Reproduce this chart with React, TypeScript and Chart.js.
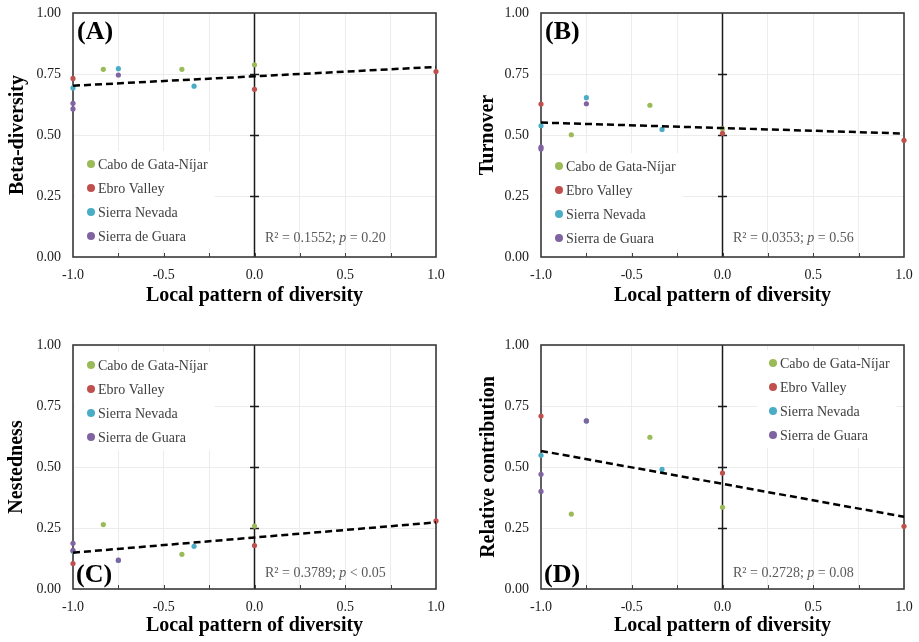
import { useEffect, useRef } from 'react';
import { Chart, registerables } from 'chart.js';

Chart.register(...registerables);

// ---------- data ----------
const regions = ['Cabo de Gata-Níjar', 'Ebro Valley', 'Sierra Nevada', 'Sierra de Guara'];
const regionColors = ['#9BBB59', '#C0504D', '#4BACC6', '#8064A2'];
const regionOrder = [4, 2, 3, 1];

// local pattern of diversity (x) per region
const caboX = [-0.833, -0.4, 0];
const ebroX = [-1, 0, 1];
const nevadaX = [-1, -0.75, -0.333];
const guaraX = [-1, -1, -0.75];

// (A) Beta-diversity
const betaCabo = [0.769, 0.769, 0.788];
const betaEbro = [0.732, 0.687, 0.76];
const betaNevada = [0.693, 0.772, 0.7];
const betaGuara = [0.63, 0.607, 0.746];
const betaTrend = [0.702, 0.779];

// (B) Turnover
const turnCabo = [0.501, 0.622, 0.526];
const turnEbro = [0.627, 0.507, 0.478];
const turnNevada = [0.538, 0.653, 0.523];
const turnGuara = [0.443, 0.45, 0.628];
const turnTrend = [0.551, 0.506];

// (C) Nestedness
const nestCabo = [0.264, 0.142, 0.258];
const nestEbro = [0.104, 0.178, 0.279];
const nestNevada = [0.155, 0.117, 0.175];
const nestGuara = [0.187, 0.158, 0.118];
const nestTrend = [0.149, 0.273];

// (D) Relative contribution
const relCabo = [0.307, 0.622, 0.335];
const relEbro = [0.709, 0.475, 0.257];
const relNevada = [0.548, 0.689, 0.49];
const relGuara = [0.47, 0.4, 0.689];
const relTrend = [0.566, 0.296];

const trendX = [-1, 1];
const yTickLabels = ['0.00', '0.25', '0.50', '0.75', '1.00'];
const xAxisTitle = 'Local pattern of diversity';

const panels = [
  {
    key: 'A', letter: '(A)', yTitle: 'Beta-diversity',
    series: [betaCabo, betaEbro, betaNevada, betaGuara], trend: betaTrend,
    stat: ['R² = 0.1552; ', 'p', ' = 0.20'],
    left: 0, top: 0, width: 460, height: 320,
    plotLeft: 73, plotTop: 13, plotRight: 436, plotBottom: 257,
    yTitlePad: 6, xTitlePad: 12,
    letterBottom: false, legend: { dx: 18, dy: 151 }, statDy: 19,
  },
  {
    key: 'B', letter: '(B)', yTitle: 'Turnover',
    series: [turnCabo, turnEbro, turnNevada, turnGuara], trend: turnTrend,
    stat: ['R² = 0.0353; ', 'p', ' = 0.56'],
    left: 460, top: 0, width: 459, height: 320,
    plotLeft: 81, plotTop: 13, plotRight: 444, plotBottom: 257,
    yTitlePad: 16, xTitlePad: 12,
    letterBottom: false, legend: { dx: 18, dy: 153 }, statDy: 19,
  },
  {
    key: 'C', letter: '(C)', yTitle: 'Nestedness',
    series: [nestCabo, nestEbro, nestNevada, nestGuara], trend: nestTrend,
    stat: ['R² = 0.3789; ', 'p', ' < 0.05'],
    left: 0, top: 320, width: 460, height: 322,
    plotLeft: 73, plotTop: 25, plotRight: 436, plotBottom: 269,
    yTitlePad: 5, xTitlePad: 4,
    letterBottom: true, legend: { dx: 18, dy: 20 }, statDy: 16,
  },
  {
    key: 'D', letter: '(D)', yTitle: 'Relative contribution',
    series: [relCabo, relEbro, relNevada, relGuara], trend: relTrend,
    stat: ['R² = 0.2728; ', 'p', ' = 0.08'],
    left: 460, top: 320, width: 459, height: 322,
    plotLeft: 81, plotTop: 25, plotRight: 444, plotBottom: 269,
    yTitlePad: 17, xTitlePad: 4,
    letterBottom: true, legend: { dx: 232, dy: 18 }, statDy: 16,
  },
];

const regionXs = [caboX, ebroX, nevadaX, guaraX];
const FONT = '"Liberation Serif", "Times New Roman", serif';

const decorPlugin = {
  id: 'decor',
  beforeDatasetsDraw(chart: any, _args: any, opts: any) {
    const { ctx, chartArea: a, scales } = chart;
    const xs = scales.x;
    const ys = scales.y;
    ctx.save();

    // legend background box
    ctx.font = `14px ${FONT}`;
    const items = chart.data.datasets.filter((d: any) => d.isRegion);
    const lx = a.left + opts.legend.dx;
    const ly = a.top + opts.legend.dy;
    let maxW = 0;
    items.forEach((d: any) => { maxW = Math.max(maxW, ctx.measureText(d.label).width); });
    ctx.fillStyle = '#ffffff';
    ctx.fillRect(lx - 16, ly - 13, maxW + 30, (items.length - 1) * 24 + 26);

    // zero line with cross ticks
    const x0 = xs.getPixelForValue(0);
    ctx.strokeStyle = '#1a1a1a';
    ctx.lineWidth = 1.5;
    ctx.beginPath();
    ctx.moveTo(x0, a.top);
    ctx.lineTo(x0, a.bottom);
    ys.ticks.forEach((t: any) => {
      if (t.value > ys.min && t.value < ys.max) {
        const y = Math.round(ys.getPixelForValue(t.value)) + 0.5;
        ctx.moveTo(x0 - 4.5, y);
        ctx.lineTo(x0 + 4.5, y);
      }
    });
    ctx.stroke();

    // inside tick marks on bottom axis
    ctx.strokeStyle = '#404040';
    ctx.lineWidth = 1;
    ctx.beginPath();
    xs.ticks.forEach((t: any) => {
      if (t.value > xs.min && t.value < xs.max) {
        const x = Math.round(xs.getPixelForValue(t.value)) + 0.5;
        ctx.moveTo(x, a.bottom);
        ctx.lineTo(x, a.bottom - 4);
      }
    });
    ctx.stroke();

    // frame
    ctx.strokeStyle = '#3a3a3a';
    ctx.lineWidth = 1.6;
    ctx.strokeRect(a.left, a.top, a.right - a.left, a.bottom - a.top);
    ctx.restore();
  },
  afterDatasetsDraw(chart: any, _args: any, opts: any) {
    const { ctx, chartArea: a } = chart;
    ctx.save();

    // legend
    const items = chart.data.datasets.filter((d: any) => d.isRegion);
    const lx = a.left + opts.legend.dx;
    const ly = a.top + opts.legend.dy;
    ctx.font = `14px ${FONT}`;
    ctx.textBaseline = 'middle';
    ctx.textAlign = 'left';
    items.forEach((d: any, i: number) => {
      const y = ly + i * 24;
      ctx.fillStyle = d.backgroundColor;
      ctx.beginPath();
      ctx.arc(lx, y, 4, 0, Math.PI * 2);
      ctx.fill();
      ctx.fillStyle = '#404040';
      ctx.fillText(d.label, lx + 7, y + 1);
    });

    // panel letter
    ctx.font = `bold 26px ${FONT}`;
    ctx.fillStyle = '#000000';
    ctx.textBaseline = 'middle';
    if (opts.letterBottom) {
      ctx.fillText(opts.letter, a.left + 3, a.bottom - 14);
    } else {
      ctx.fillText(opts.letter, a.left + 4, a.top + 19);
    }

    // statistics text
    let sx = a.left + 192;
    const sy = a.bottom - opts.statDy;
    ctx.fillStyle = '#595959';
    opts.stat.forEach((part: string, i: number) => {
      ctx.font = i === 1 ? `italic 14px ${FONT}` : `14px ${FONT}`;
      ctx.fillText(part, sx, sy);
      sx += ctx.measureText(part).width;
    });
    ctx.restore();
  },
};

const zeroPad = (s: any) => {
  s.paddingTop = 0;
  s.paddingBottom = 0;
  s.paddingLeft = 0;
  s.paddingRight = 0;
};

function Panel({ p }: { p: any }) {
  const ref = useRef<HTMLCanvasElement | null>(null);
  useEffect(() => {
    if (!ref.current) return;
    const datasets: any[] = [
      {
        type: 'line',
        label: 'trend',
        data: trendX.map((x, i) => ({ x, y: p.trend[i] })),
        borderColor: '#000000',
        borderWidth: 2.5,
        borderDash: [7, 4],
        pointRadius: 0,
        fill: false,
        clip: false,
        order: 0,
      },
      ...regions.map((r, i) => ({
        label: r,
        isRegion: true,
        data: regionXs[i].map((x, j) => ({ x, y: p.series[i][j] })),
        backgroundColor: regionColors[i],
        borderColor: regionColors[i],
        pointRadius: 2.6,
        pointBorderWidth: 0,
        clip: false,
        order: regionOrder[i],
      })),
    ];
    const chart = new Chart(ref.current, {
      type: 'scatter',
      data: { datasets },
      options: {
        responsive: false,
        animation: false,
        devicePixelRatio: 1,
        events: [],
        layout: {
          padding: { left: 0, top: p.plotTop, right: p.width - p.plotRight, bottom: 0 },
        },
        plugins: {
          legend: { display: false },
          tooltip: { enabled: false },
          decor: {
            legend: p.legend, letter: p.letter, letterBottom: p.letterBottom,
            stat: p.stat, statDy: p.statDy,
          },
        } as any,
        scales: {
          x: {
            type: 'linear',
            min: -1,
            max: 1,
            ticks: {
              stepSize: 0.25,
              autoSkip: false,
              maxRotation: 0,
              padding: 10,
              color: '#1a1a1a',
              font: { family: FONT, size: 14 },
              callback: (v: any) => {
                const n = Number(v);
                return Math.abs(n * 2 - Math.round(n * 2)) < 1e-6 ? n.toFixed(1) : '';
              },
            },
            grid: { color: '#ececec', lineWidth: 1, drawTicks: false },
            border: { display: false },
            title: {
              display: true,
              text: xAxisTitle,
              color: '#000000',
              font: { family: FONT, size: 20, weight: 'bold' },
              padding: { top: 0, bottom: p.xTitlePad },
            },
            afterFit: (s: any) => { s.height = p.height - p.plotBottom; zeroPad(s); },
          },
          y: {
            type: 'linear',
            min: 0,
            max: 1,
            ticks: {
              stepSize: 0.25,
              padding: 12,
              color: '#1a1a1a',
              font: { family: FONT, size: 14 },
              callback: (_v: any, i: number) => yTickLabels[i],
            },
            grid: { color: '#ececec', lineWidth: 1, drawTicks: false },
            border: { display: false },
            title: {
              display: true,
              text: p.yTitle,
              color: '#000000',
              font: { family: FONT, size: 20, weight: 'bold' },
              padding: { top: p.yTitlePad, bottom: 0 },
            },
            afterFit: (s: any) => { s.width = p.plotLeft; zeroPad(s); },
          },
        },
      } as any,
      plugins: [decorPlugin],
    });
    return () => chart.destroy();
  }, [p]);
  return (
    <canvas
      ref={ref}
      width={p.width}
      height={p.height}
      style={{ position: 'absolute', left: p.left, top: p.top, width: p.width, height: p.height, display: 'block' }}
    />
  );
}

export default function App() {
  return (
    <div style={{ position: 'fixed', left: 0, top: 0, width: 919, height: 642, background: '#ffffff', overflow: 'hidden' }}>
      {panels.map((p) => (
        <Panel key={p.key} p={p} />
      ))}
    </div>
  );
}
